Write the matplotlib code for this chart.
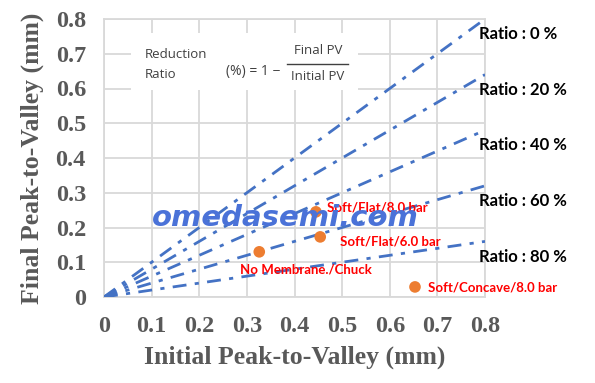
import matplotlib
matplotlib.use("Agg")
import matplotlib.pyplot as plt
import numpy as np
from matplotlib.patches import Rectangle

# Data
ratios = [0, 20, 40, 60, 80]           # reduction ratio %
line_x = [0.0, 0.8]
pt_labels = ["Soft/Flat/8.0 bar", "Soft/Flat/6.0 bar", "No Membrane./Chuck", "Soft/Concave/8.0 bar"]
pt_x = [0.445, 0.454, 0.326, 0.653]
pt_y = [0.245, 0.173, 0.130, 0.029]
ticks = [0, 0.1, 0.2, 0.3, 0.4, 0.5, 0.6, 0.7, 0.8]
tick_labels = ["0", "0.1", "0.2", "0.3", "0.4", "0.5", "0.6", "0.7", "0.8"]

W, H = 595, 383
fig = plt.figure(figsize=(W/100, H/100), dpi=100)
ax = fig.add_axes([104/W, 1-297/H, (485-104)/W, (297-19)/H])
ax.set_xlim(0, 0.8)
ax.set_ylim(0, 0.8)

ax.set_xticks(ticks)
ax.set_yticks(ticks)
ax.set_xticklabels(tick_labels)
ax.set_yticklabels(tick_labels)
ax.grid(True, color="#d9d9d9", lw=1.3, zorder=0)
ax.set_axisbelow(True)
for s in ax.spines.values():
    s.set_color("#d9d9d9")
    s.set_linewidth(1.3)
ax.tick_params(axis="y", length=0, pad=13, labelsize=17.5, labelcolor="#595959")
ax.tick_params(axis="x", length=0, pad=14, labelsize=17.5, labelcolor="#595959")
for lab in ax.get_xticklabels() + ax.get_yticklabels():
    lab.set_fontfamily("Liberation Serif")
    lab.set_fontweight("bold")

ax.set_xlabel("Initial Peak-to-Valley (mm)", fontsize=18.5, fontweight="bold",
              family="Liberation Serif", color="#595959", labelpad=6)
ax.set_ylabel("Final Peak-to-Valley (mm)", fontsize=18.5, fontweight="bold",
              family="Liberation Serif", color="#595959", labelpad=8)

# white box behind formula
ax.add_patch(Rectangle((0.057, 0.595), 0.477, 0.165, facecolor="white",
                       edgecolor="none", zorder=1))

# ratio lines
line_color = "#4472C4"
for r in ratios:
    ys = [(1 - r/100) * x for x in line_x]
    ax.plot(line_x, ys, color=line_color, lw=2, dashes=(5, 3, 1.5, 3),
            zorder=3, clip_on=True)

def px2d(px, py):
    return (px - 104) / 47.625 * 0.1, (297 - py) / 34.75 * 0.1

# ratio labels
lab_y = [34, 90, 145, 201, 257]
for r, py in zip(ratios, lab_y):
    xv, yv = px2d(479, py)
    ax.text(xv, yv, f"Ratio : {r} %", ha="left", va="center", fontsize=12,
            fontweight="bold", family="Lato", color="black", clip_on=False, zorder=5)

# points
ax.scatter(pt_x, pt_y, s=70, color="#ED7D31", zorder=4, edgecolors="none")
lab_pos = [(327, 207), (340, 241), (240, 270), (428, 288)]
for t, (px, py) in zip(pt_labels, lab_pos):
    xv, yv = px2d(px, py)
    ax.text(xv, yv, t, ha="left", va="center", fontsize=9.5, fontweight="bold",
            family="Lato", color="#FF0000", zorder=6, clip_on=False)

# formula
fc = "#404040"
x0, y0 = px2d(145, 55)
ax.text(x0, y0, "Reduction", ha="left", va="center", fontsize=9.5, family="Open Sans", color=fc, zorder=6)
x0, y0 = px2d(145, 75)
ax.text(x0, y0, "Ratio", ha="left", va="center", fontsize=9.5, family="Open Sans", color=fc, zorder=6)
x0, y0 = px2d(226, 72)
ax.text(x0, y0, "(%) = 1 \u2212", ha="left", va="center", fontsize=10, family="Open Sans", color=fc, zorder=6)
x0, y0 = px2d(318, 51)
ax.text(x0, y0, "Final PV", ha="center", va="center", fontsize=9.5, family="Open Sans", color=fc, zorder=6)
x0, y0 = px2d(318, 76)
ax.text(x0, y0, "Initial PV", ha="center", va="center", fontsize=9.5, family="Open Sans", color=fc, zorder=6)
xa, ya = px2d(287, 64)
xb, _ = px2d(348, 64)
ax.plot([xa, xb], [ya, ya], color=fc, lw=1, zorder=6)

# watermark
xw, yw = px2d(152, 218)
ax.text(xw, yw, "omedasemi.com", ha="left", va="center", fontsize=21,
        fontweight="bold", style="italic", family="DejaVu Sans",
        color="#4a72d8", zorder=7)

fig.savefig("out.png", dpi=100)
